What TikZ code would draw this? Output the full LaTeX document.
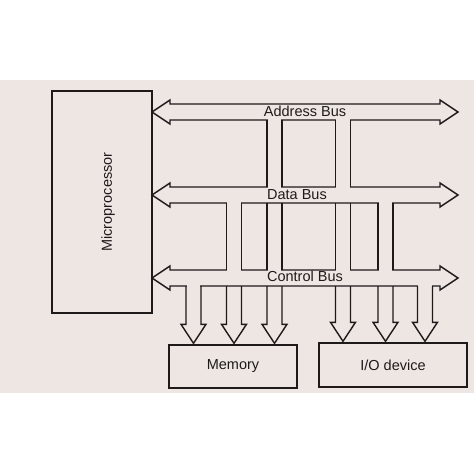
\documentclass[tikz,border=0pt]{standalone}
\usepackage{fontspec}
\setmainfont{Liberation Sans}
\usepackage{tikz}
\usetikzlibrary{arrows,calc}

\definecolor{paper}{RGB}{238,230,227}
\definecolor{ink}{RGB}{30,26,26}

\tikzset{
  box/.style={draw=ink, line width=1.4pt, fill=paper, inner sep=0pt,
    text=ink, font=\fontsize{14.5}{17}\selectfont},
  lbl/.style={inner sep=0pt, text=ink, font=\fontsize{14.5}{17}\selectfont},
  wire/.style={draw=ink, line width=1.4pt, line join=miter},
}

% hollow bus arrow, centred on height #1
\newcommand{\busarrow}[1]{%
  \draw[wire, fill=paper] (152,#1) -- (170,#1-12) -- (170,#1-8) -- (440,#1-8)
    -- (440,#1-12) -- (458,#1) -- (440,#1+12) -- (440,#1+8) -- (170,#1+8)
    -- (170,#1+12) -- cycle;}
% open the bus line at x=#1 on the line through #2
\newcommand{\opening}[2]{\fill[paper] (#1-6.8,0 |- #2) ++(0,-1.6) rectangle ++(13.6,3.2);}
% side lines of a vertical bus branch
\newcommand{\branch}[3]{%
  \draw[wire] (#1-7.5,0 |- #2) -- (#1-7.5,0 |- #3) (#1+7.5,0 |- #2) -- (#1+7.5,0 |- #3);}
% branch from control bus down into a box, with hollow head
\newcommand{\drop}[2]{%
  \draw[wire] (#1-7.5,0 |- Cb) -- ($(#1-7.5,0 |- #2.north)+(0,-20)$) -- ++(-5,0)
    -- ($(#1,0 |- #2.north)+(0,-1)$) -- ++(12.5,-19) -- ++(-5,0) -- (#1+7.5,0 |- Cb);}

\begin{document}
\begin{tikzpicture}[x=1pt,y=-1pt]
  \useasboundingbox (0,0) rectangle (474,474);
  \fill[paper] (0,80) rectangle (474,393);

  \node[box, minimum width=100pt, minimum height=222pt] (MP) at (102,202) {};
  \node[lbl, rotate=90] (MPt) at (108,202) {Microprocessor};
  \node[box, minimum width=128pt, minimum height=43pt] (Mem) at (233,366.5) {Memory};
  \node[box, minimum width=148pt, minimum height=44pt] (IO) at (393,365) {I/O device};

  % the three buses
  \busarrow{112}
  \busarrow{195}
  \busarrow{278}
  \coordinate (Ab) at (0,120);
  \coordinate (Dt) at (0,187);
  \coordinate (Db) at (0,203);
  \coordinate (Ct) at (0,270);
  \coordinate (Cb) at (0,286);

  \opening{274.5}{Ab} \opening{343}{Ab}
  \opening{274.5}{Dt} \opening{343}{Dt}
  \opening{234}{Db}   \opening{385.5}{Db}
  \opening{234}{Ct}   \opening{274.5}{Ct} \opening{343}{Ct} \opening{385.5}{Ct}
  \opening{193.5}{Cb} \opening{425}{Cb}

  \branch{274.5}{Ab}{Dt}
  \branch{343}{Ab}{Dt}
  \branch{234}{Db}{Ct}
  \branch{274.5}{Db}{Ct}
  \branch{343}{Db}{Ct}
  \branch{385.5}{Db}{Ct}

  \node[lbl] (AB) at (305,111.5) {Address Bus};
  \node[lbl] (DB) at (297,194.5) {Data Bus};
  \node[lbl] (CB) at (305,276.5) {Control Bus};

  \drop{193.5}{Mem}
  \drop{234}{Mem}
  \drop{274.5}{Mem}
  \drop{343}{IO}
  \drop{385.5}{IO}
  \drop{425}{IO}
\end{tikzpicture}
\end{document}
